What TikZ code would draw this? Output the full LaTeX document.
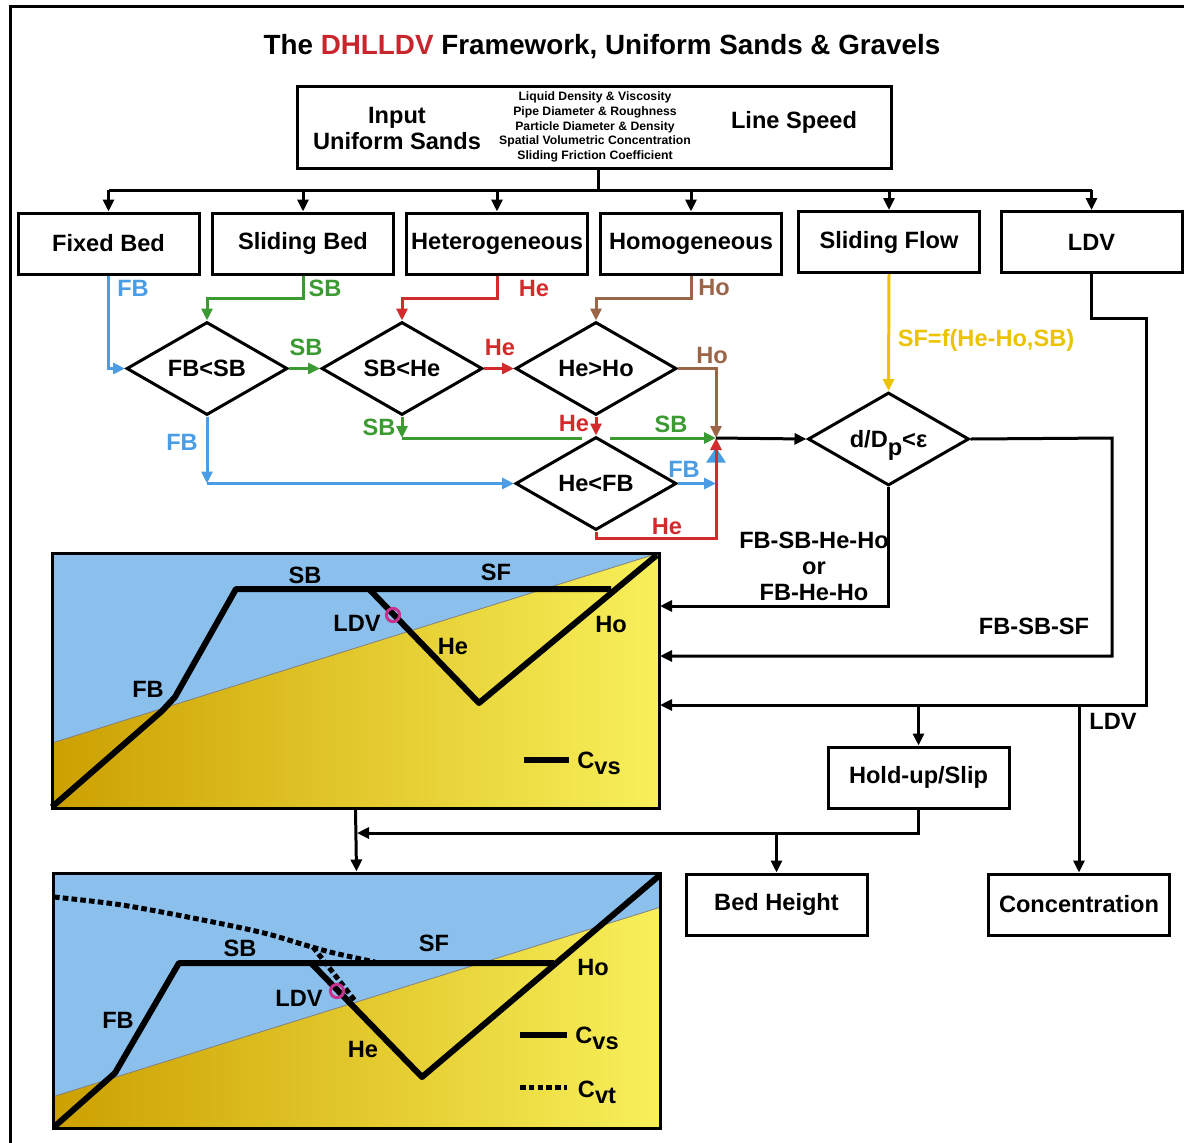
\documentclass[tikz,border=0pt]{standalone}
\usepackage{fontspec}
\setmainfont{Liberation Sans}
\usetikzlibrary{arrows.meta,shapes.geometric}
\definecolor{fbc}{RGB}{74,157,228}
\definecolor{sbc}{RGB}{60,154,50}
\definecolor{hec}{RGB}{210,43,43}
\definecolor{hoc}{RGB}{155,101,72}
\definecolor{sfc}{RGB}{235,195,0}
\definecolor{skyc}{RGB}{139,191,236}
\definecolor{golda}{RGB}{204,160,0}
\definecolor{goldb}{RGB}{248,240,90}
\definecolor{ringc}{RGB}{200,50,140}
\definecolor{titlered}{RGB}{200,38,44}
\begin{document}
\begin{tikzpicture}[x=0.5pt,y=-0.5pt,
  font=\bfseries\fontsize{11.8}{13}\selectfont,
  >={Triangle[length=6pt,width=5.5pt]},
  wire/.style={line width=1.5pt},
  box/.style={draw,line width=1.5pt,minimum width=90.5pt,minimum height=30.5pt,inner sep=0pt},
  choice/.style={draw,diamond,aspect=1.8,line width=1.5pt,minimum width=80.5pt,minimum height=46.5pt,inner sep=0pt},
  panel/.style={draw,line width=1.5pt,minimum width=303.5pt,minimum height=127.5pt,inner sep=0pt},
  cvs/.style={line width=3pt,line join=round},
  cvt/.style={line width=2.5pt,dash pattern=on 2.8pt off 1.6pt},
  ring/.style={draw=ringc,line width=1.5pt}]
\useasboundingbox (0,0) rectangle (1184,1142);
\draw[wire] (10,1160) rectangle (1200,6);
\node (title) at (602,47) {\fontsize{13.9}{16}\selectfont The \textcolor{titlered}{DHLLDV} Framework, Uniform Sands \& Gravels};
\node[draw,line width=1.5pt,minimum width=297pt,minimum height=41pt] (input) at (594,127) {};
\node[align=center] (inname) at (397,128) {Input\\Uniform Sands};
\node[align=center,font=\bfseries\fontsize{6.1}{7.37}\selectfont] (inlist) at (595,127) {Liquid Density \& Viscosity\\Pipe Diameter \& Roughness\\Particle Diameter \& Density\\Spatial Volumetric Concentration\\Sliding Friction Coefficient};
\node (speed) at (794,122) {Line Speed};
\node[box] (fixed) at (108.5,243.5) {Fixed Bed};
\node[box] (sliding) at (303,243.5) {Sliding Bed};
\node[box] (hetero) at (497,243.5) {Heterogeneous};
\node[box] (homo) at (691,243.5) {Homogeneous};
\node[box] (sflow) at (889,242) {Sliding Flow};
\node[box] (ldv) at (1091.5,242) {LDV};
\node[choice] (fbsb) at (207,368.5) {FB<SB};
\node[choice] (sbhe) at (402,368.5) {SB<He};
\node[choice] (heho) at (596,368.5) {He>Ho};
\node[choice] (hefb) at (596,483.5) {He<FB};
\node[choice] (ddp) at (888.5,439) {d/D\raisebox{-4pt}[0pt][0pt]{p}<ε};
\node[box] (hold) at (918.5,777.5) {Hold-up/Slip};
\node[box] (bed) at (776.5,904.5) {Bed Height};
\node[box] (conc) at (1079,904.5) {Concentration};
\coordinate (bus) at (598,190);
\coordinate (jn) at (716,438);
\coordinate (gapl) at (582,438);
\coordinate (gapr) at (610,438);
\coordinate (pa1) at (660,606);
\coordinate (pa2) at (660,656);
\coordinate (pa3) at (660,705);
\coordinate (r1) at (1112,438);
\coordinate (r2) at (1146,318);
\coordinate (q) at (357,833);
\draw[wire] (input.south-|bus) -- (bus);
\draw[wire] (fixed.north|-bus) -- (ldv.north|-bus);
\foreach \n in {fixed,sliding,hetero,homo,sflow,ldv}
  \draw[wire,->] (\n.north|-bus) -- (\n.north);
\draw[wire,fbc,->] (fixed.south) |- (fbsb.west);
\draw[wire,sbc,->] (sliding.south) -- ++(0,23) -| (fbsb.north);
\draw[wire,hec,->] (hetero.south) -- ++(0,23) -| (sbhe.north);
\draw[wire,hoc,->] (homo.south) -- ++(0,23) -| (heho.north);
\draw[wire,sbc,->] (fbsb.east) -- (sbhe.west);
\draw[wire,hec,->] (sbhe.east) -- (heho.west);
\draw[wire,hoc,->] (heho.east) -| (jn);
\draw[wire,hec,->] (heho.south) -- (hefb.north);
\draw[wire,sbc,->] (sbhe.south) -- (sbhe.south|-jn);
\draw[wire,sbc] (sbhe.south|-jn) -- (gapl);
\draw[wire,sbc,->] (gapr) -- (jn);
\draw[wire,fbc,->] (fbsb.south) -- (fbsb.south|-hefb.west);
\draw[wire,fbc,->] (fbsb.south|-hefb.west) -- (hefb.west);
\draw[wire,fbc,->] (hefb.east) -- (hefb.east-|jn);
\draw[wire,fbc,-{Triangle[length=7.5pt,width=9.5pt]}] (hefb.east-|jn) -- ++(0,-36);
\draw[wire,hec,->] (hefb.south) -- ++(0,7) -| (jn);
\draw[wire,->] (jn) -- (ddp.west);
\draw[wire,sfc,->] (sflow.south) -- (ddp.north);
\node[fbc] (lfb1) at (133,288) {FB};
\node[sbc] (lsb1) at (325,288) {SB};
\node[hec] (lhe1) at (534,288) {He};
\node[hoc] (lho1) at (714,287) {Ho};
\node[sbc] (lsb2) at (306,347) {SB};
\node[hec] (lhe2) at (500,347) {He};
\node[hoc] (lho2) at (712,355) {Ho};
\node[hec] (lhe3) at (574,423) {He};
\node[sbc] (lsb3) at (379,427) {SB};
\node[sbc] (lsb4) at (671,424) {SB};
\node[fbc] (lfb2) at (182,442) {FB};
\node[fbc] (lfb3) at (684,469) {FB};
\node[hec] (lhe4) at (667,526) {He};
\node[sfc] (lsf) at (986,340) {SF=f(He-Ho,SB)};
% first regime chart
\fill[skyc] (52,553) rectangle (659,808);
\shade[left color=golda,right color=goldb] (52,743) -- (659,553) -- (659,808) -- (52,808) -- cycle;
\draw[line width=0.4pt,gray] (52,743) -- (659,553);
\draw[cvs] (52,807) -- (162,711) -- (175,697) -- (236,589) -- (611,589);
\draw[cvs] (369,589) -- (479,703) -- (657,555);
\draw[ring] (393,615) circle[radius=3.3pt];
\node[panel] (panelA) at (355.5,680.5) {};
\node (asb) at (305,575) {SB};
\node (asf) at (496,572) {SF};
\node (aldv) at (357,623) {LDV};
\node (ahe) at (453,646) {He};
\node (aho) at (611,624) {Ho};
\node (afb) at (148,689) {FB};
\draw[cvs] (524,760) -- (569,760);
\node (acvs) at (599,763) {C\raisebox{-3pt}{vs}};
% second regime chart
\fill[skyc] (52,873) rectangle (661,1128);
\shade[left color=golda,right color=goldb] (52,1097) -- (661,907) -- (661,1128) -- (52,1128) -- cycle;
\draw[line width=0.4pt,gray] (52,1097) -- (661,907);
\draw[cvs] (54,1127) -- (115,1073) -- (179,963) -- (554,963);
\draw[cvs] (311,963) -- (422,1077) -- (660,875);
\draw[cvt] plot[smooth] coordinates {(54,897) (122,905) (203,920) (264,933) (305,945) (334,953) (375,962)};
\draw[cvt] (313,947) -- (356,1002);
\draw[ring] (337,991) circle[radius=3.3pt];
\node[panel] (panelB) at (356.5,1000.5) {};
\node (bsb) at (240,948) {SB};
\node (bsf) at (434,943) {SF};
\node (bldv) at (299,998) {LDV};
\node (bhe) at (363,1049) {He};
\node (bho) at (593,967) {Ho};
\node (bfb) at (118,1020) {FB};
\draw[cvs] (520,1035) -- (567,1035);
\node (bcvs) at (597,1038) {C\raisebox{-3pt}{vs}};
\draw[cvt] (520,1087) -- (567,1087);
\node (bcvt) at (597,1092) {C\raisebox{-3pt}{vt}};
% outputs
\draw[wire,->] (ddp.south) |- (pa1);
\draw[wire,->] (ddp.east) -- (r1) |- (pa2);
\draw[wire,->] (ldv.south) |- (r2) |- (pa3);
\draw[wire,->] (conc.north|-pa3) -- (conc.north);
\draw[wire,->] (hold.north|-pa3) -- (hold.north);
\draw[wire,->] (hold.south) |- (q);
\draw[wire,->] (bed.north|-q) -- (bed.north);
\draw[wire,->] (panelA.south) -- (panelB.north);
\node[align=center] (lmix) at (814,566) {FB-SB-He-Ho\\or\\FB-He-Ho};
\node (lsf2) at (1034,626) {FB-SB-SF};
\node (lldv) at (1113,721) {LDV};
\end{tikzpicture}
\end{document}
